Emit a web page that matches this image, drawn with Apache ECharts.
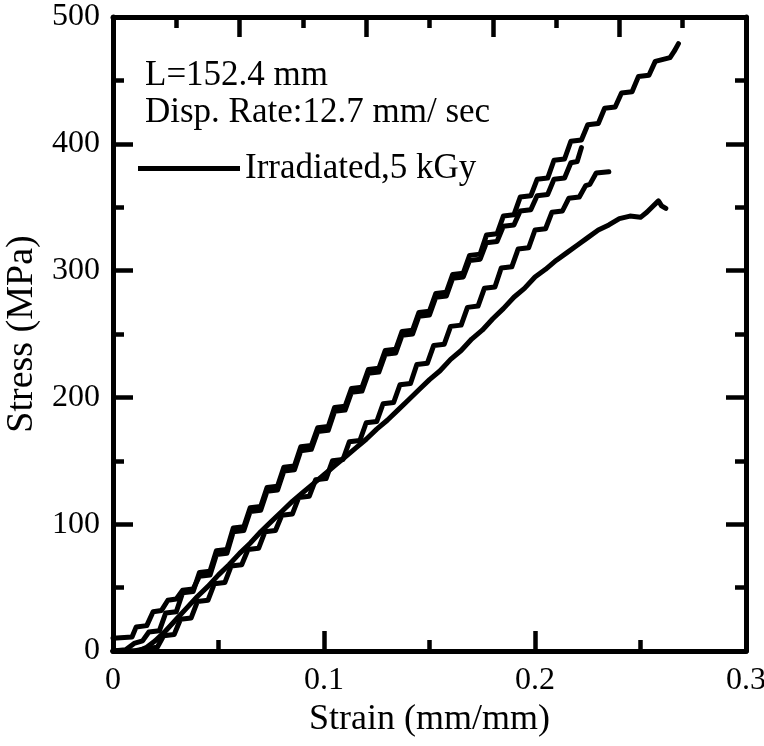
<!DOCTYPE html>
<html>
<head>
<meta charset="utf-8">
<script src="https://cdn.jsdelivr.net/npm/echarts@6/dist/echarts.min.js"></script>
<style>
html,body{margin:0;padding:0;background:#fff;}
#chart{width:764px;height:746px;}
</style>
</head>
<body>
<div id="chart"></div>
<script>
var xTicks = [0, 0.1, 0.2, 0.3];
var yTicks = [0, 100, 200, 300, 400, 500];
var seriesName = 'Irradiated,5 kGy';
var noteLines = ['L=152.4 mm', 'Disp. Rate:12.7 mm/ sec'];
var xTitle = 'Strain (mm/mm)';
var yTitle = 'Stress (MPa)';

var curveA = [[0,0],[0.006,1],[0.010,6],[0.014,8],[0.017,15],[0.022,16],[0.025,30],[0.030,31],[0.033,46],[0.038,47],[0.041,62],[0.046,63],[0.049,79],[0.054,80],[0.057,97],[0.062,98],[0.065,113],[0.070,114],[0.073,129],[0.078,130],[0.081,145],[0.086,146],[0.089,161],[0.094,162],[0.097,176],[0.102,177],[0.105,192],[0.110,193],[0.113,207],[0.118,208],[0.121,222],[0.126,223],[0.129,237],[0.134,238],[0.137,252],[0.142,253],[0.145,267],[0.150,268],[0.153,282],[0.158,283],[0.161,297],[0.166,298],[0.169,312],[0.174,313],[0.177,328],[0.182,329],[0.185,343],[0.190,344],[0.193,358],[0.198,359],[0.201,372],[0.206,373],[0.209,387],[0.214,388],[0.217,402],[0.222,403],[0.225,415],[0.230,416],[0.233,428],[0.238,429],[0.241,440],[0.246,441],[0.249,453],[0.254,454],[0.257,465],[0.264,468],[0.266,473],[0.268,479]];

var curveB = [[0,10],[0.009,11],[0.011,19],[0.016,20],[0.019,31],[0.023,32],[0.026,40],[0.030,41],[0.033,48],[0.038,49],[0.041,59],[0.046,60],[0.049,76],[0.054,77],[0.057,94],[0.062,95],[0.065,110],[0.070,111],[0.073,126],[0.078,127],[0.081,142],[0.086,143],[0.089,158],[0.094,159],[0.097,173],[0.102,174],[0.105,189],[0.110,190],[0.113,204],[0.118,205],[0.121,219],[0.126,220],[0.129,234],[0.134,235],[0.137,249],[0.142,250],[0.145,264],[0.150,265],[0.153,279],[0.158,280],[0.161,294],[0.166,295],[0.169,308],[0.174,309],[0.177,322],[0.182,323],[0.185,335],[0.190,336],[0.193,347],[0.198,348],[0.201,359],[0.206,360],[0.209,372],[0.214,373],[0.217,385],[0.220,386],[0.222,397]];

var curveC = [[0,0],[0.010,0],[0.016,2],[0.021,3],[0.024,12],[0.029,13],[0.032,25],[0.037,26],[0.040,39],[0.045,40],[0.048,53],[0.053,54],[0.056,67],[0.061,68],[0.064,80],[0.069,81],[0.072,94],[0.077,95],[0.080,107],[0.085,108],[0.088,121],[0.093,122],[0.096,135],[0.101,136],[0.104,150],[0.109,151],[0.112,165],[0.117,166],[0.120,180],[0.125,181],[0.128,195],[0.133,196],[0.136,210],[0.141,211],[0.144,226],[0.149,227],[0.152,241],[0.157,242],[0.160,256],[0.165,257],[0.168,271],[0.173,272],[0.176,286],[0.181,287],[0.184,302],[0.189,303],[0.192,317],[0.197,318],[0.200,332],[0.205,333],[0.208,346],[0.213,347],[0.216,357],[0.221,358],[0.224,367],[0.226,368],[0.229,377],[0.235,378]];

var curveD = [[0,0],[0.012,0],[0.016,3],[0.020,8],[0.025,16],[0.030,25],[0.035,34],[0.040,43],[0.045,51],[0.050,60],[0.055,68],[0.060,77],[0.065,85],[0.070,94],[0.075,102],[0.080,110],[0.085,118],[0.090,125],[0.095,132],[0.100,139],[0.105,146],[0.110,153],[0.115,160],[0.120,167],[0.125,175],[0.130,182],[0.135,190],[0.140,198],[0.145,206],[0.150,214],[0.155,221],[0.160,230],[0.165,237],[0.170,246],[0.175,253],[0.180,262],[0.185,270],[0.190,279],[0.195,286],[0.200,295],[0.205,301],[0.210,308],[0.215,314],[0.220,320],[0.225,326],[0.230,332],[0.235,336],[0.240,341],[0.245,343],[0.250,342],[0.253,346],[0.256,351],[0.2585,355],[0.260,351],[0.262,349]];

var FONT = '"Liberation Serif", "Times New Roman", serif';
var chart = echarts.init(document.getElementById('chart'), null, {renderer: 'canvas'});

function mkSeries(d) {
  return {
    name: seriesName, type: 'line', data: d, symbol: 'none', xAxisIndex: 0, yAxisIndex: 0,
    lineStyle: {color: '#000', width: 5, cap: 'round', join: 'round'},
    itemStyle: {color: '#000'}, animation: false, silent: true
  };
}
var axisLine = {show: true, onZero: false, lineStyle: {color: '#000', width: 5}};
var tick = {show: true, inside: true, length: 20, lineStyle: {color: '#000', width: 4.5}};
var minor = {show: true, splitNumber: 2, length: 11, lineStyle: {color: '#000', width: 4.5}};

chart.setOption({
  animation: false,
  backgroundColor: '#fff',
  grid: {left: 113, right: 18, top: 17, bottom: 95, containLabel: false, outerBoundsMode: 'none'},
  xAxis: [{
    type: 'value', position: 'bottom', min: xTicks[0], max: xTicks[xTicks.length-1], interval: 0.1,
    axisLine: axisLine, axisTick: tick, minorTick: minor, splitLine: {show: false},
    axisLabel: {fontFamily: FONT, fontSize: 32, color: '#000', margin: 14},
    name: xTitle, nameLocation: 'middle', nameGap: 35,
    nameTextStyle: {fontFamily: FONT, fontSize: 36, color: '#000'}
  }, {
    type: 'value', position: 'top', min: 0, max: 5, interval: 1,
    axisLine: axisLine, axisTick: tick, minorTick: minor, splitLine: {show: false},
    axisLabel: {show: false}
  }],
  yAxis: [{
    type: 'value', position: 'left', min: yTicks[0], max: yTicks[yTicks.length-1], interval: 100,
    axisLine: axisLine, axisTick: tick, minorTick: minor, splitLine: {show: false},
    axisLabel: {fontFamily: FONT, fontSize: 32, color: '#000', margin: 13},
    name: yTitle, nameLocation: 'middle', nameGap: 63, nameRotate: 90,
    nameTextStyle: {fontFamily: FONT, fontSize: 38, color: '#000'}
  }, {
    type: 'value', position: 'right', min: yTicks[0], max: yTicks[yTicks.length-1], interval: 100,
    axisLine: axisLine, axisTick: tick, minorTick: minor, splitLine: {show: false},
    axisLabel: {show: false}
  }],
  legend: {
    show: true, data: [{name: seriesName, icon: 'rect'}], left: 138, top: 151, padding: 0,
    itemWidth: 102, itemHeight: 5, itemGap: 5,
    textStyle: {fontFamily: FONT, fontSize: 35, color: '#000'},
    selectedMode: false
  },
  graphic: [
    {type: 'text', x: 145, y: 76, silent: true,
     style: {text: noteLines[0], font: '35px ' + FONT, fill: '#000', textVerticalAlign: 'middle', verticalAlign: 'middle'}},
    {type: 'text', x: 145, y: 113, silent: true,
     style: {text: noteLines[1], font: '35px ' + FONT, fill: '#000', textVerticalAlign: 'middle', verticalAlign: 'middle'}}
  ],
  series: [mkSeries(curveA), mkSeries(curveB), mkSeries(curveC), mkSeries(curveD)]
});
</script>
</body>
</html>
